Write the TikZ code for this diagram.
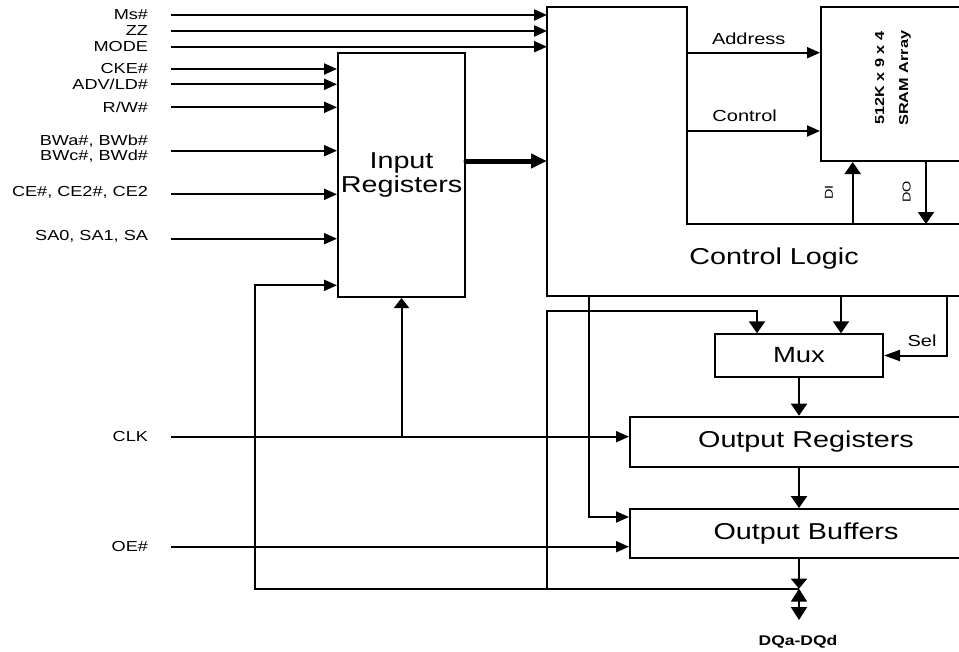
\documentclass[tikz,border=0pt]{standalone}
\usepackage{fontspec}
\setmainfont[FakeStretch=1.25]{Liberation Sans}
\usetikzlibrary{arrows.meta}
\tikzset{
  box/.style={draw, line width=2pt, rectangle, inner sep=0pt},
  lbl/.style={font=\fontsize{14.5}{15.5}\selectfont, inner sep=0pt, align=right},
  big/.style={font=\fontsize{23}{24}\selectfont},
  mid/.style={font=\fontsize{16}{18}\selectfont, inner sep=0pt},
  ah/.style={-{Triangle[length=13pt,width=11pt]}},
  av/.style={-{Triangle[length=12pt,width=16pt]}},
}
\begin{document}
\begin{tikzpicture}[x=1pt,y=-1pt,line width=2pt]
\useasboundingbox (0,0) rectangle (959,651);
\clip (0,0) rectangle (959,651);

% blocks
\node[box, minimum width=127pt, minimum height=244pt, align=center, big] (inreg) at (401.5,175) {Input\\Registers};
\node[box, minimum width=149pt, minimum height=154.3pt] (sram) at (895.5,83.85) {};
\node[rotate=90, align=center, font=\bfseries\fontsize{13}{24}\selectfont] (sramtxt) at (893,78.3) {512K x 9 x 4\\SRAM Array};
\node[box, minimum width=168pt, minimum height=42.4pt, font=\fontsize{22}{24}\selectfont] (mux) at (799,355.5) {Mux};
\node[box, minimum width=352pt, minimum height=50pt, big] (outreg) at (806,441.7) {Output Registers};
\node[box, minimum width=352pt, minimum height=49.3pt, big] (outbuf) at (806,533.7) {Output Buffers};

% control logic (L-shaped)
\draw (975,224) -- (687,224) -- (687,6.7) -- (547,6.7) -- (547,296) -- (975,296);
\node[big] (ctrl) at (774,259) {Control Logic};
\coordinate (ctrlL) at (547,0);

% inputs to control logic
\coordinate[label={[lbl,label distance=22pt]left:Ms\#}] (ms) at (171,15);
\coordinate[label={[lbl,label distance=22pt]left:ZZ}] (zz) at (171,31);
\coordinate[label={[lbl,label distance=22pt]left:MODE}] (mode) at (171,46.7);
\draw[ah] (ms) -- (ms -| ctrlL);
\draw[ah] (zz) -- (zz -| ctrlL);
\draw[ah] (mode) -- (mode -| ctrlL);

% inputs to input registers
\coordinate[label={[lbl,label distance=22pt]left:CKE\#}] (cke) at (171,69);
\coordinate[label={[lbl,label distance=22pt]left:ADV/LD\#}] (adv) at (171,84.3);
\coordinate[label={[lbl,label distance=22pt]left:R/W\#}] (rw) at (171,107.3);
\coordinate[label={[lbl,label distance=22pt,yshift=2pt]left:{BWa\#, BWb\#\\BWc\#, BWd\#}}] (bw) at (171,150.7);
\coordinate[label={[lbl,label distance=22pt,yshift=1.5pt]left:{CE\#, CE2\#, CE2}}] (ce) at (171,194.3);
\coordinate[label={[lbl,label distance=22pt,yshift=2pt]left:{SA0, SA1, SA}}] (sa) at (171,238.7);
\foreach \s in {cke,adv,rw,bw,ce,sa} \draw[ah] (\s) -- (\s -| inreg.west);

% thick bus
\draw[line width=5pt, line cap=round, -{Triangle[length=16pt,width=14pt]}] ([yshift=14pt]inreg.east) -- ([yshift=14pt]inreg.east -| ctrlL);

% control logic to SRAM
\coordinate (adr) at (687,52.7);
\coordinate (ctl) at (687,131);
\draw[ah] (adr) -- (adr -| sram.west);
\draw[ah] (ctl) -- (ctl -| sram.west);
\node[mid] (adrlbl) at (748.7,38.3) {Address};
\node[mid] (ctllbl) at (744.7,116) {Control};
\coordinate (di) at (852.7,224);
\coordinate (do) at (926,224);
\draw[av] (di) -- (di |- sram.south);
\draw[av] (do |- sram.south) -- (do);
\node[rotate=90, font=\fontsize{11.5}{13}\selectfont] (dilbl) at (829,192.5) {DI};
\node[rotate=90, font=\fontsize{11.5}{13}\selectfont] (dolbl) at (906.7,191.7) {DO};

% control logic outputs
\coordinate (c1) at (589.3,296);
\coordinate (c2) at (841,296);
\coordinate (c3) at (947.3,296);
\draw[av] (c2) -- (c2 |- mux.north);
\draw[-{Triangle[length=16pt,width=11pt]}] (c3) |- (mux.east);
\node[mid] (sel) at (922,341) {Sel};
\coordinate (oe) at (171,546.7);
\draw[ah] (c1) |- ([yshift=16.7pt]outbuf.west);

% clock
\coordinate[label={[lbl,label distance=22pt]left:CLK}] (clk) at (171,436.7);
\draw[ah] (clk) -- (clk -| outreg.west);
\draw[{Triangle[length=10pt,width=15pt]}-] (inreg.south) -- (clk -| inreg.south);

% OE
\path (oe) node[lbl, anchor=east, xshift=-22pt] (oelbl) {OE\#};
\draw[ah] (oe) -- (oe -| outbuf.west);

% data path
\draw[av] (mux.south) -- (mux.south |- outreg.north);
\draw[av] (mux.south |- outreg.south) -- (mux.south |- outbuf.north);
\coordinate (bus) at (799,588.7);
\coordinate (fb) at (255,588.7);
\coordinate (j1) at (547,588.7);
\coordinate (wr) at (757,311);
\draw[{Triangle[length=10pt,width=16pt]}-] (bus) -- (mux.south |- outbuf.south);
\draw[ah] (bus) -- (fb) |- ([yshift=12.7pt]inreg.south west);
\draw[av] (j1) |- (wr) -- (wr |- mux.north);
\coordinate (dqend) at (799,620);
\draw[{Triangle[length=13pt,width=16pt]}-{Triangle[length=13pt,width=16pt]}] (bus) -- (dqend);
\node[font=\bfseries\fontsize{14}{16}\selectfont] (dq) at (798,641.5) {DQa-DQd};
\end{tikzpicture}
\end{document}
